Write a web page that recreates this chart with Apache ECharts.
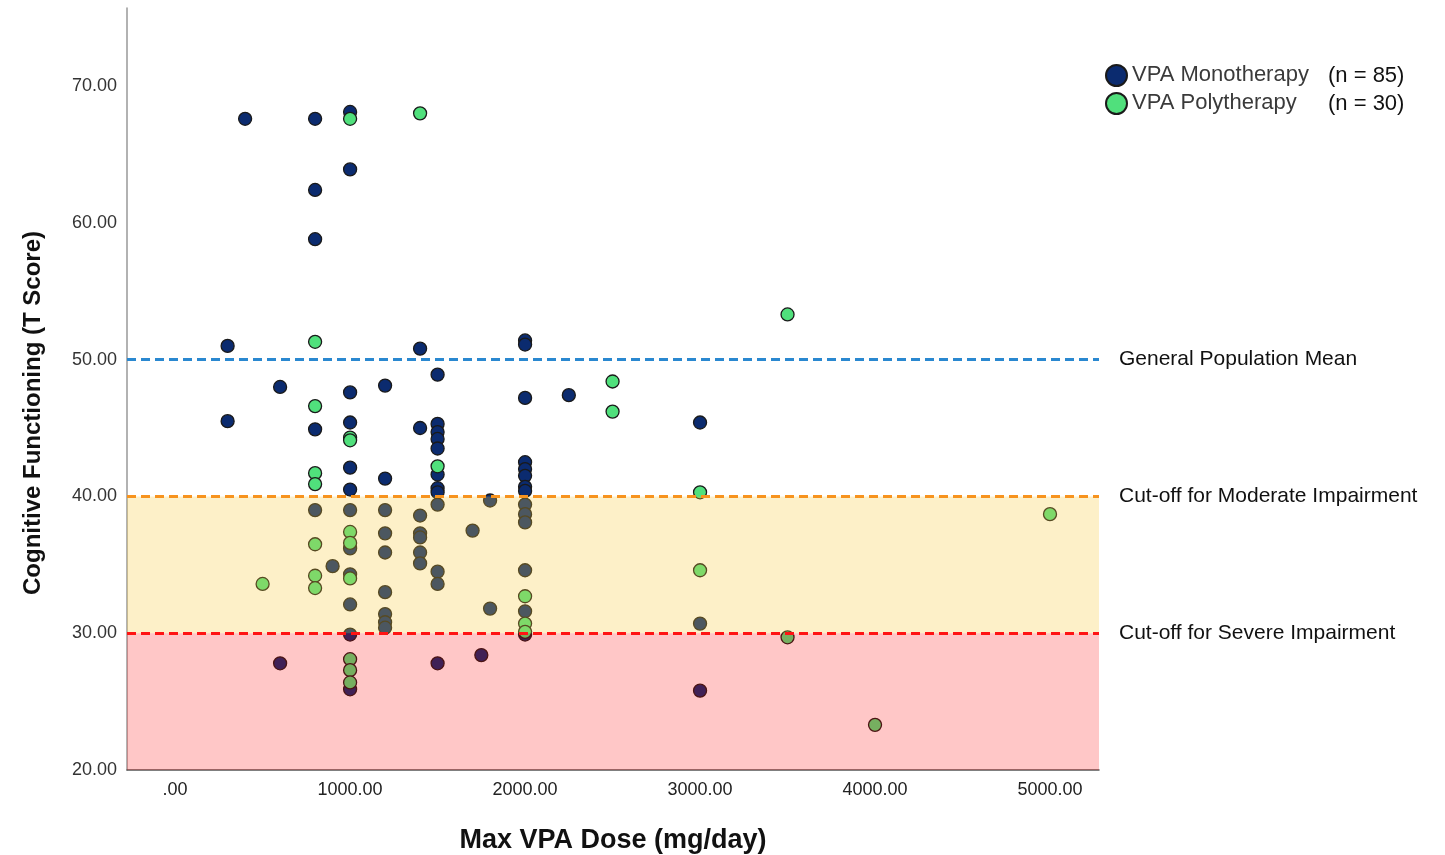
<!DOCTYPE html>
<html>
<head>
<meta charset="utf-8">
<script src="https://cdn.jsdelivr.net/npm/echarts@6/dist/echarts.min.js"></script>
<style>html,body{margin:0;padding:0;background:#fff;}#c{width:1445px;height:855px;}</style>
</head>
<body>
<div id="c"></div>
<script>
// ---- Data ----
const monoDose = [300,300,400,600,600,800,800,800,800,800,900,
  1000,1000,1000,1000,1000,1000,1000,1000,1000,1000,1000,1000,
  1200,1200,1200,1200,1200,1200,1200,1200,1200,
  1400,1400,1400,1400,1400,1400,1400,
  1500,1500,1500,1500,1500,1500,1500,1500,1500,1500,1500,1500,
  1700,1750,1800,1800,
  2000,2000,2000,2000,2000,2000,2000,2000,2000,2000,2000,2000,2000,2000,
  2250,3000,3000,3000];
const monoScore = [51.0,45.5,67.6,48.0,27.8,67.6,62.4,58.8,44.9,39.0,34.9,
  68.1,63.9,47.6,45.4,42.1,40.5,39.0,36.2,34.3,32.1,29.9,25.9,
  48.1,41.3,39.0,37.3,35.9,33.0,31.4,30.8,30.4,
  50.8,45.0,38.6,37.3,37.0,35.9,35.1,
  48.9,45.3,44.7,44.2,43.5,41.6,40.6,40.3,39.4,34.5,33.6,27.8,
  37.5,28.4,39.7,31.8,
  51.4,51.1,47.2,42.5,42.0,41.5,40.7,40.4,39.4,38.7,38.1,34.6,31.6,29.9,
  47.4,45.4,30.7,25.8];
const polyDose = [500,800,800,800,800,800,800,800,
  1000,1000,1000,1000,1000,1000,1000,1000,1000,
  1400,1500,2000,2000,2000,2500,2500,3000,3000,3500,3500,4000,5000];
const polyScore = [33.6,51.3,46.6,41.7,40.9,36.5,34.2,33.3,
  67.6,44.3,44.1,37.4,36.6,34.0,28.1,27.3,26.4,
  68.0,42.2,32.7,30.7,30.1,48.4,46.2,40.3,34.6,53.3,29.7,23.3,38.7];
const seriesNames = ['VPA Monotherapy','VPA Polytherapy'];
const seriesCounts = ['(n = 85)','(n = 30)'];
const xTicks = [0,1000,2000,3000,4000,5000];
const xTickLabels = ['.00','1000.00','2000.00','3000.00','4000.00','5000.00'];
const yTicks = [20,30,40,50,60,70];
const yTickLabels = ['20.00','30.00','40.00','50.00','60.00','70.00'];
const refValues = [50,40,30];
const refLabels = ['General Population Mean','Cut-off for Moderate Impairment','Cut-off for Severe Impairment'];
const bandRanges = [[30,40],[20,30]];

const zip = (a,b) => a.map((v,i)=>[v,b[i]]);
const refColors = ['#2a88d0','#f7931e','#ff1414'];
const bandColors = ['rgba(248,200,58,0.28)','rgba(255,0,0,0.22)'];
const FONT = 'Liberation Sans, Arial, sans-serif';

const chart = echarts.init(document.getElementById('c'), null, {renderer:'canvas'});
chart.setOption({
  animation:false,
  backgroundColor:'#fff',
  grid:{left:127,right:346,top:8,bottom:85,containLabel:false,outerBoundsMode:'none'},
  legend:{
    data:seriesNames,
    left:1100, top:59, orient:'vertical',
    icon:'circle', itemWidth:21, itemHeight:21, itemGap:5,
    formatter:(n)=>'{a|'+n+'}{b|'+seriesCounts[seriesNames.indexOf(n)]+'}',
    textStyle:{
      fontFamily:FONT,
      rich:{
        a:{fontSize:22,lineHeight:23,color:'#3a3a3a',width:196,fontFamily:FONT,verticalAlign:'top'},
        b:{fontSize:22,lineHeight:23,color:'#111',fontFamily:FONT,verticalAlign:'bottom'}
      }
    }
  },
  xAxis:{
    type:'value', min:-275, max:5280,
    name:'Max VPA Dose (mg/day)', nameLocation:'middle', nameGap:57,
    nameTextStyle:{fontSize:27,fontWeight:'bold',color:'#111',fontFamily:FONT},
    axisLine:{show:true,onZero:false,lineStyle:{color:'#555',width:1.5}},
    axisTick:{show:false},
    splitLine:{show:false},
    axisLabel:{
      customValues:xTicks,
      formatter:(v)=>xTickLabels[xTicks.indexOf(v)] ?? '',
      margin:11, fontSize:18, color:'#222', fontFamily:FONT
    }
  },
  yAxis:{
    type:'value', min:20, max:75.7,
    name:'Cognitive Functioning (T Score)', nameLocation:'middle', nameGap:82,
    nameTextStyle:{fontSize:24,fontWeight:'bold',color:'#111',padding:[0,48,0,0],fontFamily:FONT},
    axisLine:{show:true,onZero:false,lineStyle:{color:'#999',width:1.5}},
    axisTick:{show:false},
    splitLine:{show:false},
    axisLabel:{
      customValues:yTicks,
      formatter:(v)=>yTickLabels[yTicks.indexOf(v)] ?? '',
      margin:10, fontSize:18, color:'#333', fontFamily:FONT
    }
  },
  series:[
    {
      name:seriesNames[0], type:'scatter', z:2,
      data:zip(monoDose,monoScore), symbol:'circle', symbolSize:13,
      itemStyle:{color:'#0b2b6f',borderColor:'#1a1a1a',borderWidth:1.3,opacity:1}
    },
    {
      name:seriesNames[1], type:'scatter', z:2,
      data:zip(polyDose,polyScore), symbol:'circle', symbolSize:13,
      itemStyle:{color:'#50e07c',borderColor:'#1a1a1a',borderWidth:1.3,opacity:1}
    },
    {
      name:'refs', type:'scatter', data:[], z:4,
      markArea:{
        silent:true, z:3,
        data: bandRanges.map((r,i)=>[
          {yAxis:r[0], itemStyle:{color:bandColors[i]}},
          {yAxis:r[1]}
        ])
      },
      markLine:{
        silent:true, z:6, symbol:'none',
        data: refValues.map((v,i)=>({
          yAxis:v,
          lineStyle:{color:refColors[i],type:[9,5],width:3,opacity:1},
          label:{show:true,position:'end',distance:20,formatter:refLabels[i],
            fontSize:21,color:'#111',fontFamily:FONT,padding:[4,0,0,0]}
        }))
      }
    }
  ]
});
</script>
</body>
</html>
